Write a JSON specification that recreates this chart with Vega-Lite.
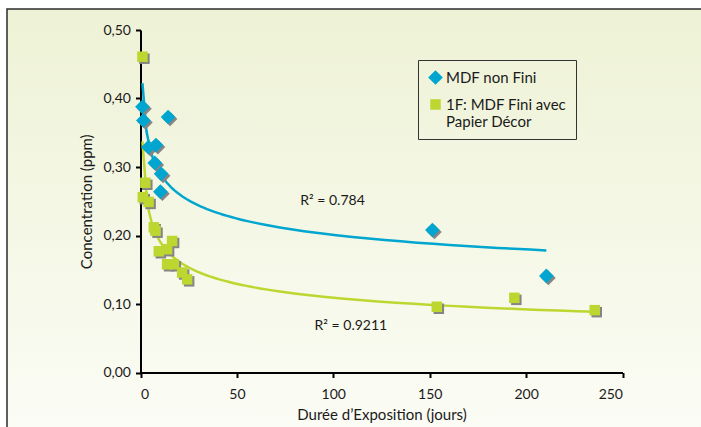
{
  "$schema": "https://vega.github.io/schema/vega-lite/v6.json",
  "autosize": {"type": "none"},
  "padding": {"left": 7, "top": 9, "right": -3, "bottom": -3},
  "width": 697,
  "height": 421,
  "background": "#ffffff",
  "config": {
    "font": "Lato",
    "view": {
      "stroke": "#2b2b2b",
      "strokeWidth": 1.5,
      "fill": {"gradient": "linear", "x1": 0, "y1": 0, "x2": 0, "y2": 1,
        "stops": [{"offset": 0, "color": "#eef2d5"}, {"offset": 1, "color": "#fbfcf5"}]}
    },
    "axis": {
      "domainColor": "#000000", "domainWidth": 2, "tickColor": "#000000", "tickWidth": 2, "tickSize": 5,
      "labelFont": "Lato", "labelFontSize": 14, "labelColor": "#1a1a1a",
      "titleFont": "Lato", "titleFontSize": 15, "titleFontWeight": "normal", "titleColor": "#1a1a1a",
      "grid": false
    },
    "legend": {"labelFont": "Lato", "labelFontSize": 15, "labelColor": "#1a1a1a"}
  },
  "datasets": {
    "pts": [
      {"s": "MDF non Fini", "d": 1.0, "v": 0.388},
      {"s": "MDF non Fini", "d": 1.5, "v": 0.368},
      {"s": "MDF non Fini", "d": 14.3, "v": 0.373},
      {"s": "MDF non Fini", "d": 4.1, "v": 0.329},
      {"s": "MDF non Fini", "d": 8.0, "v": 0.332},
      {"s": "MDF non Fini", "d": 7.4, "v": 0.306},
      {"s": "MDF non Fini", "d": 10.7, "v": 0.29},
      {"s": "MDF non Fini", "d": 10.3, "v": 0.264},
      {"s": "MDF non Fini", "d": 151.4, "v": 0.208},
      {"s": "MDF non Fini", "d": 210.5, "v": 0.141},
      {"s": "1F: MDF Fini avec Papier Décor", "d": 1.0, "v": 0.461},
      {"s": "1F: MDF Fini avec Papier Décor", "d": 2.5, "v": 0.277},
      {"s": "1F: MDF Fini avec Papier Décor", "d": 1.2, "v": 0.256},
      {"s": "1F: MDF Fini avec Papier Décor", "d": 4.2, "v": 0.249},
      {"s": "1F: MDF Fini avec Papier Décor", "d": 6.9, "v": 0.212},
      {"s": "1F: MDF Fini avec Papier Décor", "d": 7.8, "v": 0.207},
      {"s": "1F: MDF Fini avec Papier Décor", "d": 9.5, "v": 0.177},
      {"s": "1F: MDF Fini avec Papier Décor", "d": 13.8, "v": 0.18},
      {"s": "1F: MDF Fini avec Papier Décor", "d": 16.4, "v": 0.192},
      {"s": "1F: MDF Fini avec Papier Décor", "d": 13.8, "v": 0.158},
      {"s": "1F: MDF Fini avec Papier Décor", "d": 17.3, "v": 0.158},
      {"s": "1F: MDF Fini avec Papier Décor", "d": 21.6, "v": 0.146},
      {"s": "1F: MDF Fini avec Papier Décor", "d": 24.2, "v": 0.136},
      {"s": "1F: MDF Fini avec Papier Décor", "d": 153.7, "v": 0.096},
      {"s": "1F: MDF Fini avec Papier Décor", "d": 193.9, "v": 0.109},
      {"s": "1F: MDF Fini avec Papier Décor", "d": 235.6, "v": 0.091}
    ],
    "notes": [
      {"t": "R² = 0.784", "d": 99.6, "v": 0.2507},
      {"t": "R² = 0.9211", "d": 109.1, "v": 0.068}
    ]
  },
  "data": {"name": "pts"},
  "encoding": {
    "x": {"field": "d", "type": "quantitative",
      "scale": {"domain": [0, 250], "range": [133.5, 615.5], "nice": false, "zero": false},
      "axis": {"values": [0, 50, 100, 150, 200, 250], "offset": -57.5, "title": "Durée d’Exposition (jours)", "labelPadding": 10, "titlePadding": 6}},
    "y": {"field": "v", "type": "quantitative",
      "scale": {"domain": [0, 0.5], "range": [363.5, 21], "nice": false, "zero": false},
      "axis": {"values": [0, 0.1, 0.2, 0.3, 0.4, 0.5], "offset": -133.5, "title": "Concentration (ppm)",
        "labelExpr": "replace(format(datum.value, '.2f'), '.', ',')", "labelPadding": 5, "titlePadding": 8}}
  },
  "layer": [
    {
      "transform": [
        {"filter": "datum.s == 'MDF non Fini'"},
        {"regression": "v", "on": "d", "method": "pow", "extent": [1, 210.5]}
      ],
      "mark": {"type": "line", "color": "#00a6cf", "strokeWidth": 2.5}
    },
    {
      "transform": [
        {"filter": "datum.s != 'MDF non Fini'"},
        {"regression": "v", "on": "d", "method": "pow", "extent": [1, 235.6]}
      ],
      "mark": {"type": "line", "color": "#bed630", "strokeWidth": 2.5}
    },
    {
      "mark": {"type": "point", "filled": true, "opacity": 1, "color": "#858585", "xOffset": 2, "yOffset": 2},
      "encoding": {
        "shape": {"field": "s", "type": "nominal", "scale": {"domain": ["MDF non Fini", "1F: MDF Fini avec Papier Décor"], "range": ["diamond", "square"]}},
        "size": {"field": "s", "type": "nominal", "scale": {"domain": ["MDF non Fini", "1F: MDF Fini avec Papier Décor"], "range": [215, 110]}}
      }
    },
    {
      "mark": {"type": "point", "filled": true, "opacity": 1},
      "encoding": {
        "color": {"field": "s", "type": "nominal", "scale": {"domain": ["MDF non Fini", "1F: MDF Fini avec Papier Décor"], "range": ["#00a6cf", "#bed630"]},
          "legend": {"title": null, "orient": "none", "legendX": 411, "legendY": 51, "strokeColor": "#333333", "padding": 9, "labelOffset": 2, "rowPadding": 8,
            "labelExpr": "datum.label == '1F: MDF Fini avec Papier Décor' ? ['1F: MDF Fini avec', 'Papier Décor'] : datum.label"}},
        "shape": {"field": "s", "type": "nominal", "scale": {"domain": ["MDF non Fini", "1F: MDF Fini avec Papier Décor"], "range": ["diamond", "square"]}},
        "size": {"field": "s", "type": "nominal", "scale": {"domain": ["MDF non Fini", "1F: MDF Fini avec Papier Décor"], "range": [215, 110]}}
      }
    },
    {
      "data": {"name": "notes"},
      "mark": {"type": "text", "font": "Lato", "fontSize": 14, "color": "#1a1a1a"},
      "encoding": {"text": {"field": "t", "type": "nominal"}}
    }
  ]
}
